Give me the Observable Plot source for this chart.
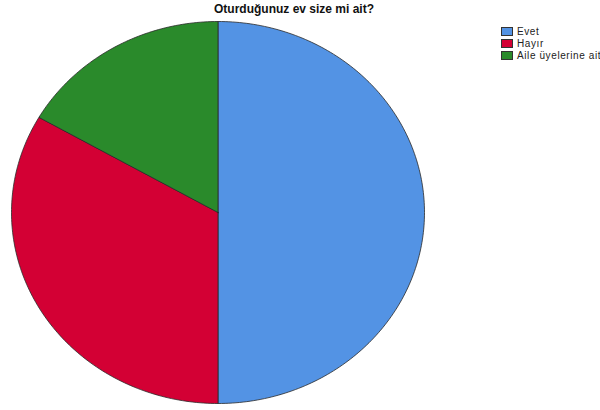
<!DOCTYPE html>
<html><head><meta charset="utf-8">
<script src="https://cdn.jsdelivr.net/npm/d3@7"></script>
<script src="https://cdn.jsdelivr.net/npm/@observablehq/plot@0.6"></script>
<style>
body{margin:0;background:#fff;font-family:Arial,"Liberation Sans",sans-serif}
#wrap{position:relative;width:600px;height:410px;overflow:hidden}
#title{position:absolute;left:214px;top:2px;font-weight:bold;font-size:12px;color:#111;white-space:nowrap}
#legend{position:absolute;left:501px;top:25px;font-size:10px;letter-spacing:0.6px;color:#222;white-space:nowrap}
.row{display:flex;align-items:center;height:12px}
.sw{width:12px;height:9px;box-sizing:border-box;border:1px solid #333;margin-right:4px}
#chart{position:absolute;left:0;top:0}
</style></head>
<body><div id="wrap"><div id="chart"></div><div id="title"></div><div id="legend"></div></div>
<script>
const title = "Oturduğunuz ev size mi ait?";
const categories = ["Evet", "Hayır", "Aile üyelerine ait"];
const values = [50, 33.3, 16.7];
const colors = ["#5393E4", "#D30034", "#2A8A2B"];

const total = d3.sum(values);
const pts = [];
let acc = 0;
categories.forEach((c, i) => {
  const a0 = acc / total * 2 * Math.PI;
  acc += values[i];
  const a1 = acc / total * 2 * Math.PI;
  const n = Math.max(2, Math.ceil((a1 - a0) / (2 * Math.PI) * 360));
  pts.push({cat: c, x: 0, y: 0});
  for (let k = 0; k <= n; k++) {
    const a = a0 + (a1 - a0) * k / n;
    pts.push({cat: c, x: Math.sin(a), y: Math.cos(a)});
  }
  pts.push({cat: c, x: 0, y: 0});
});

const plot = Plot.plot({
  width: 600, height: 410,
  margin: 0,
  x: {domain: [-1, 1], range: [11, 424], axis: null},
  y: {domain: [-1, 1], range: [403, 21], axis: null},
  color: {domain: categories, range: colors, legend: false},
  marks: [
    Plot.line(pts, {x: "x", y: "y", z: "cat", fill: "cat", stroke: "#2a2a2a", strokeWidth: 0.8, curve: "linear", strokeLinejoin: "round"})
  ]
});
document.getElementById("chart").appendChild(plot);
document.getElementById("title").textContent = title;
const lg = document.getElementById("legend");
categories.forEach((c, i) => {
  const r = document.createElement("div"); r.className = "row";
  const s = document.createElement("div"); s.className = "sw"; s.style.background = colors[i];
  const t = document.createElement("span"); t.textContent = c;
  r.appendChild(s); r.appendChild(t); lg.appendChild(r);
});
</script></body></html>
